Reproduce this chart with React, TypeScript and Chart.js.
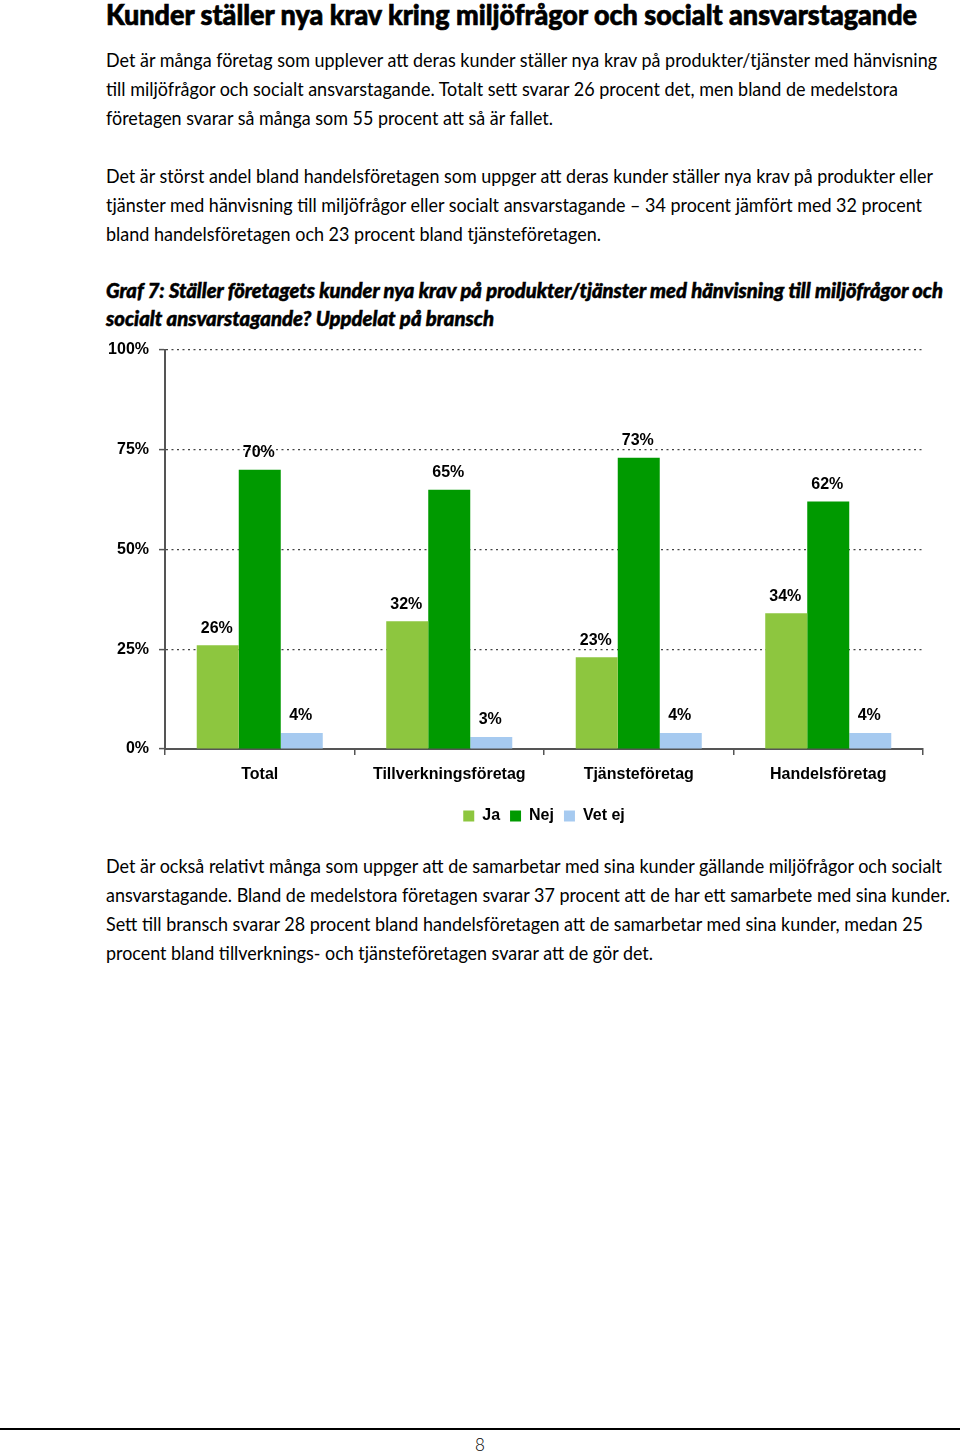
import React, { useEffect, useRef } from "react";
import { Chart, registerables } from "chart.js";

Chart.register(...registerables);

const categories = ["Total", "Tillverkningsföretag", "Tjänsteföretag", "Handelsföretag"];
const seriesNames = ["Ja", "Nej", "Vet ej"];
const jaValues = [26, 32, 23, 34];
const nejValues = [70, 65, 73, 62];
const vetEjValues = [4, 3, 4, 4];
const yTicks = [0, 25, 50, 75, 100];
const seriesColors = ["#8DC63F", "#009A00", "#A6CAF0"];

const titleText = "Kunder ställer nya krav kring miljöfrågor och socialt ansvarstagande";
const para1 = [
  "Det är många företag som upplever att deras kunder ställer nya krav på produkter/tjänster med hänvisning",
  "till miljöfrågor och socialt ansvarstagande. Totalt sett svarar 26 procent det, men bland de medelstora",
  "företagen svarar så många som 55 procent att så är fallet.",
];
const para2 = [
  "Det är störst andel bland handelsföretagen som uppger att deras kunder ställer nya krav på produkter eller",
  "tjänster med hänvisning till miljöfrågor eller socialt ansvarstagande – 34 procent jämfört med 32 procent",
  "bland handelsföretagen och 23 procent bland tjänsteföretagen.",
];
const caption = [
  "Graf 7: Ställer företagets kunder nya krav på produkter/tjänster med hänvisning till miljöfrågor och",
  "socialt ansvarstagande? Uppdelat på bransch",
];
const para3 = [
  "Det är också relativt många som uppger att de samarbetar med sina kunder gällande miljöfrågor och socialt",
  "ansvarstagande. Bland de medelstora företagen svarar 37 procent att de har ett samarbete med sina kunder.",
  "Sett till bransch svarar 28 procent bland handelsföretagen att de samarbetar med sina kunder, medan 25",
  "procent bland tillverknings- och tjänsteföretagen svarar att de gör det.",
];

const CHART_FONT = "'Liberation Sans', Arial, sans-serif";

const valueLabels = {
  id: "valueLabels",
  afterDatasetsDraw(chart: any) {
    const ctx = chart.ctx;
    ctx.save();
    ctx.font = `bold 16px ${CHART_FONT}`;
    ctx.fillStyle = "#000";
    ctx.textAlign = "center";
    ctx.textBaseline = "middle";
    chart.data.datasets.forEach((ds: any, di: number) => {
      const meta = chart.getDatasetMeta(di);
      meta.data.forEach((bar: any, i: number) => {
        ctx.fillText(`${ds.data[i]}%`, bar.x - 1, bar.y - 17);
      });
    });
    ctx.restore();
  },
};

function ChartBlock() {
  const ref = useRef<HTMLCanvasElement | null>(null);
  useEffect(() => {
    if (!ref.current) return;
    const chart = new Chart(ref.current, {
      type: "bar",
      data: {
        labels: categories,
        datasets: [
          { label: seriesNames[0], data: jaValues, backgroundColor: seriesColors[0], borderWidth: 0 },
          { label: seriesNames[1], data: nejValues, backgroundColor: seriesColors[1], borderWidth: 0 },
          { label: seriesNames[2], data: vetEjValues, backgroundColor: seriesColors[2], borderWidth: 0 },
        ],
      },
      options: {
        responsive: false,
        animation: false,
        devicePixelRatio: 1,
        layout: { padding: { left: 0, right: 17, top: 20, bottom: 6 } },
        datasets: { bar: { barPercentage: 1, categoryPercentage: 0.665 } },
        plugins: {
          tooltip: { enabled: false },
          legend: {
            position: "bottom",
            fullSize: false,
            labels: {
              boxWidth: 11,
              boxHeight: 11,
              padding: 10,
              color: "#000",
              font: { family: CHART_FONT, size: 16, weight: "bold" },
            },
          },
        },
        scales: {
          x: {
            grid: {
              offset: true,
              drawOnChartArea: false,
              drawTicks: true,
              tickLength: 6,
              color: "#555",
              lineWidth: 1.5,
            },
            border: { display: true, color: "#555", width: 2 },
            ticks: {
              color: "#000",
              padding: 10,
              font: { family: CHART_FONT, size: 16, weight: "bold" },
            },
            afterFit: (s: any) => {
              s.height = 49;
            },
          },
          y: {
            min: 0,
            max: 100,
            afterBuildTicks: (s: any) => {
              s.ticks = yTicks.map((v) => ({ value: v }));
            },
            grid: {
              color: "#444",
              lineWidth: 1.2,
              tickLength: 6,
              tickColor: "#555",
              tickWidth: 1.5,
              tickBorderDash: [],
            },
            border: { display: true, color: "#555", width: 2, dash: [2, 3.5] },
            ticks: {
              color: "#000",
              padding: 10,
              font: { family: CHART_FONT, size: 16, weight: "bold" },
              callback: (v: any) => `${v}%`,
            },
            afterFit: (s: any) => {
              s.width = 65;
            },
          },
        },
      },
      plugins: [valueLabels],
    });
    return () => chart.destroy();
  }, []);
  return (
    <canvas
      ref={ref}
      width={840}
      height={510}
      style={{ position: "absolute", left: 100, top: 330, width: 840, height: 510 }}
    />
  );
}

type Line = { t: string; y: number; len: number };

function TextLines({
  lines,
  size,
  weight,
  italic,
  stroke,
}: {
  lines: Line[];
  size: number;
  weight: number;
  italic?: boolean;
  stroke?: number;
}) {
  return (
    <>
      {lines.map((l, i) => (
        <text
          key={i}
          x={106}
          y={l.y}
          textLength={l.len}
          lengthAdjust="spacingAndGlyphs"
          fontFamily="Lato, 'Noto Sans', sans-serif"
          fontSize={size}
          fontWeight={weight}
          fontStyle={italic ? "italic" : "normal"}
          fill="#000"
          stroke={stroke ? "#000" : "none"}
          strokeWidth={stroke || 0}
        >
          {l.t}
        </text>
      ))}
    </>
  );
}

export default function App() {
  const p1Lines: Line[] = [
    { t: para1[0], y: 67, len: 831 },
    { t: para1[1], y: 96, len: 792 },
    { t: para1[2], y: 125, len: 447 },
  ];
  const p2Lines: Line[] = [
    { t: para2[0], y: 183, len: 827 },
    { t: para2[1], y: 212, len: 816 },
    { t: para2[2], y: 241, len: 495 },
  ];
  const capLines: Line[] = [
    { t: caption[0], y: 298, len: 837 },
    { t: caption[1], y: 326, len: 388 },
  ];
  const p3Lines: Line[] = [
    { t: para3[0], y: 873, len: 836 },
    { t: para3[1], y: 902, len: 844 },
    { t: para3[2], y: 931, len: 817 },
    { t: para3[3], y: 960, len: 547 },
  ];
  return (
    <div style={{ position: "absolute", left: 0, top: 0, width: 960, height: 1454, background: "#fff", overflow: "hidden" }}>
      <svg width={960} height={1454} style={{ position: "absolute", left: 0, top: 0 }}>
        <TextLines lines={[{ t: titleText, y: 25, len: 811 }]} size={29} weight={900} stroke={0.7} />
        <TextLines lines={p1Lines} size={20} weight={400} />
        <TextLines lines={p2Lines} size={20} weight={400} />
        <TextLines lines={capLines} size={20} weight={900} italic stroke={0.5} />
        <TextLines lines={p3Lines} size={20} weight={400} />
        <rect x={0} y={1428} width={960} height={2} fill="#000" />
        <text x={480} y={1451} textAnchor="middle" fontFamily="Lato, sans-serif" fontSize={17} fontWeight={300} fill="#000">
          8
        </text>
      </svg>
      <ChartBlock />
    </div>
  );
}
